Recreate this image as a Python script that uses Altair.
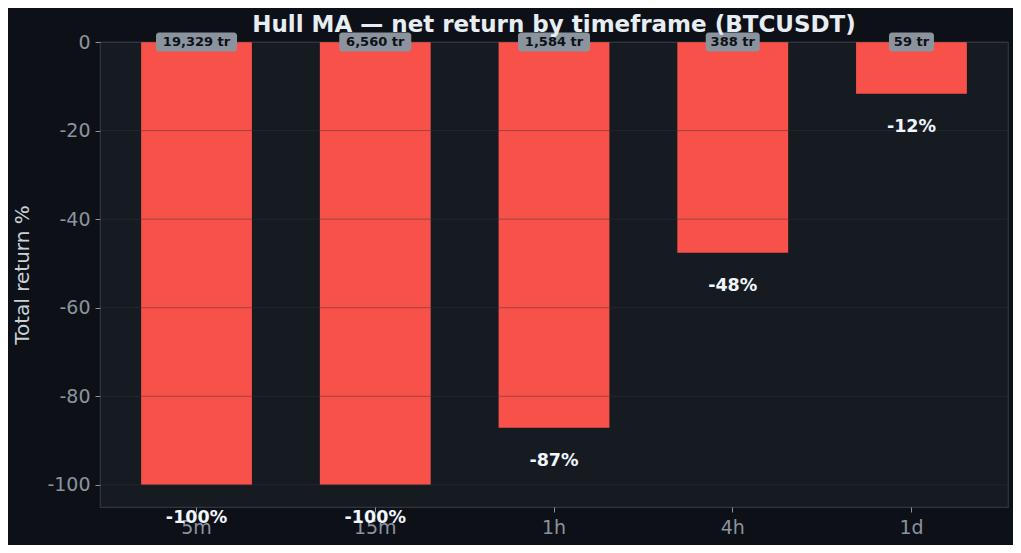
import altair as alt
import pandas as pd

timeframes = ["5m", "15m", "1h", "4h", "1d"]
returns = [-100.0, -100.0, -87.1, -47.6, -11.7]
ret_labels = ["-100%", "-100%", "-87%", "-48%", "-12%"]
trade_labels = ["19,329 tr", "6,560 tr", "1,584 tr", "388 tr", "59 tr"]
y_ticks = [-100, -80, -60, -40, -20, 0]

df = pd.DataFrame({"tf": timeframes, "ret": returns, "rlab": ret_labels, "tlab": trade_labels})
grid_df = pd.DataFrame({"t": y_ticks})

FONT = "DejaVu Sans"
xs = alt.Scale(domain=timeframes, paddingInner=0.38, paddingOuter=0.23)
ys = alt.Scale(domain=[-105, 0], nice=False, zero=False)

x_enc = alt.X("tf:N", sort=timeframes, scale=xs,
              axis=alt.Axis(title=None, labelAngle=0, labelFontSize=19, labelColor="#8b949e",
                            tickColor="#8b949e", tickSize=5, labelPadding=6, domain=False,
                            labelFont=FONT))

bars = alt.Chart(df).mark_bar(color="#f85149").encode(
    x=x_enc,
    y=alt.Y("ret:Q", scale=ys,
            axis=alt.Axis(values=y_ticks, title="Total return %", titleFontSize=20,
                          titleColor="#c9d1d9", titleFontWeight="normal", titleFont=FONT,
                          labelFontSize=19, labelColor="#8b949e", labelFont=FONT,
                          labelExpr="replace(datum.label, '−', '-')",
                          tickColor="#8b949e", tickSize=5, labelPadding=5, grid=False,
                          domain=False, titlePadding=14)),
)

grid = alt.Chart(grid_df).mark_rule(color="#30363d", opacity=0.45, strokeWidth=1).encode(
    y=alt.Y("t:Q", scale=ys)
)

boxes = alt.Chart(df).transform_calculate(
    w="length(datum.tlab) * 9"
).mark_bar(color="#8b949e", cornerRadius=3).encode(
    x=alt.X("tf:N", sort=timeframes, scale=xs),
    y=alt.datum(2.15),
    y2=alt.datum(-2.15),
    size=alt.Size("w:Q", scale=None, legend=None),
)

top_text = alt.Chart(df).mark_text(font=FONT, fontSize=13, fontWeight="bold", color="#0d1117",
                                   baseline="middle", dy=0).encode(
    x=alt.X("tf:N", sort=timeframes, scale=xs),
    y=alt.datum(0),
    text="tlab:N",
)

bot_text = alt.Chart(df).mark_text(font=FONT, fontSize=17.5, fontWeight="bold", color="#f0f6fc",
                                   baseline="middle", dy=33).encode(
    x=alt.X("tf:N", sort=timeframes, scale=xs),
    y=alt.Y("ret:Q", scale=ys),
    text="rlab:N",
)

chart = alt.layer(bars, grid, boxes, top_text, bot_text).properties(
    width=908,
    height=465,
    background="#0d1117",
    padding={"left": 92, "top": 34, "right": 5, "bottom": 38},
    autosize=alt.AutoSizeParams(type="none"),
    title=alt.TitleParams("Hull MA — net return by timeframe (BTCUSDT)", fontSize=23,
                          font=FONT, fontWeight="bold", color="#e6edf3", anchor="middle",
                          offset=-5),
).configure_view(fill="#161b22", stroke="#30363d", strokeWidth=1.2)

chart.save("out.html", embed_options={"renderer": "svg", "actions": False})
